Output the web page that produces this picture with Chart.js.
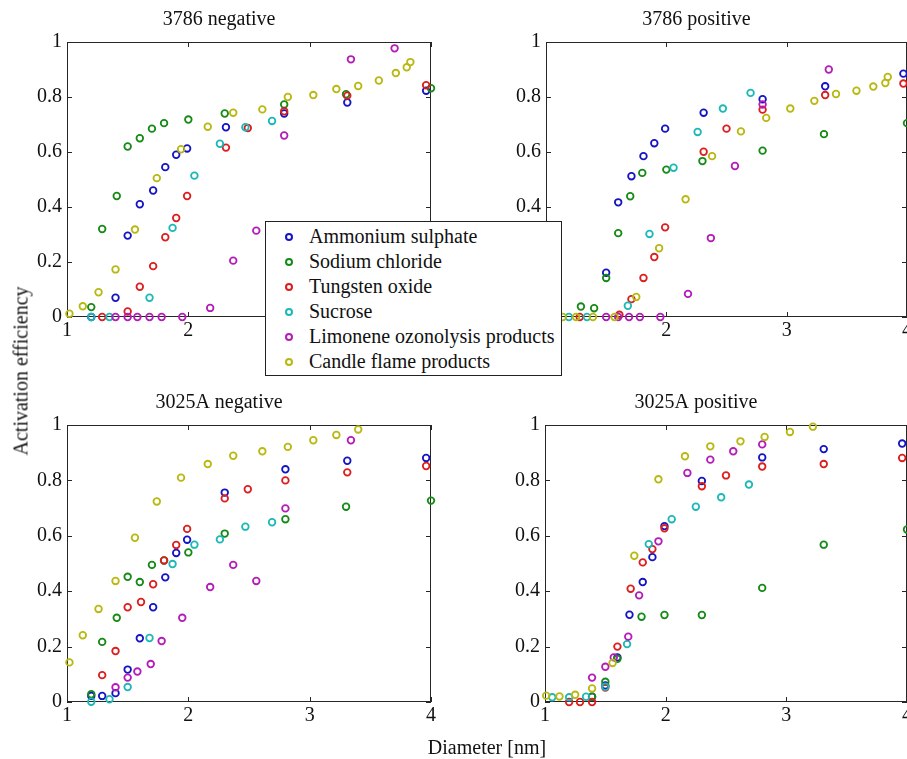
<!DOCTYPE html>
<html>
<head>
<meta charset="utf-8">
<script src="https://cdn.jsdelivr.net/npm/chart.js@4.4.1/dist/chart.umd.min.js"></script>
<style>
  html, body { margin: 0; padding: 0; background: #fff; overflow: hidden; width: 907px; height: 759px; }
  .panel { position: absolute; }
  .label { position: absolute; font-family: "Liberation Serif", "Times New Roman", "DejaVu Serif", serif; font-size: 20px; color: #111; white-space: nowrap; }
  #legend {
    position: absolute; left: 265px; top: 221px; width: 297px; height: 155px;
    box-sizing: border-box; border: 1px solid #222; background: #fff; padding-top: 2px;
    font-family: "Liberation Serif", "Times New Roman", "DejaVu Serif", serif; font-size: 20px; color: #111;
  }
  #legend .row { position: relative; height: 25px; line-height: 25px; padding-left: 43px; white-space: nowrap; }
  #legend .mk { position: absolute; left: 19px; top: 9px; width: 4px; height: 4px; border: 2px solid; border-radius: 50%; }
</style>
</head>
<body>
<div id="p0" class="panel"><canvas id="c0"></canvas></div>
<div id="p1" class="panel"><canvas id="c1"></canvas></div>
<div id="p2" class="panel"><canvas id="c2"></canvas></div>
<div id="p3" class="panel"><canvas id="c3"></canvas></div>
<div id="legend"></div>
<div class="label" style="left:21px; top:371px; transform:translate(-50%,-50%) rotate(-90deg);">Activation efficiency</div>
<div class="label" style="left:487px; top:747px; transform:translate(-50%,-50%);">Diameter [nm]</div>

<script>
/* =========================================================
   DATA
========================================================= */
const series = ["Ammonium sulphate", "Sodium chloride", "Tungsten oxide", "Sucrose",
                "Limonene ozonolysis products", "Candle flame products"];
const colors = ["#1414c4", "#168a16", "#dc1e1e", "#1cb8b8", "#b41cb8", "#b8b810"];
const panelTitles = ["3786 negative", "3786 positive", "3025A negative", "3025A positive"];
const xTicks = [1, 2, 3, 4];
const yTicks = [0, 0.2, 0.4, 0.6, 0.8, 1];

// each panel: one list of [diameter, efficiency] per series, same order as `series`
const neg3786 = [
  [[1.2,0],[1.4,0.07],[1.5,0.296],[1.6,0.41],[1.71,0.46],[1.81,0.545],[1.9,0.59],[1.99,0.613],[2.31,0.69],[2.79,0.74],[3.31,0.78],[3.96,0.823]],
  [[1.2,0.036],[1.29,0.32],[1.41,0.44],[1.5,0.62],[1.6,0.65],[1.7,0.685],[1.8,0.705],[2.0,0.718],[2.3,0.74],[2.79,0.773],[3.3,0.81],[4.0,0.832]],
  [[1.29,0],[1.5,0.02],[1.6,0.11],[1.71,0.185],[1.81,0.29],[1.9,0.36],[1.99,0.44],[2.31,0.616],[2.49,0.687],[2.79,0.748],[3.31,0.805],[3.96,0.843]],
  [[1.2,0],[1.35,0],[1.68,0.07],[1.87,0.324],[2.05,0.514],[2.26,0.63],[2.47,0.69],[2.69,0.713]],
  [[1.4,0],[1.5,0],[1.58,0],[1.68,0],[1.78,0],[1.95,0],[2.18,0.033],[2.37,0.205],[2.56,0.314],[2.79,0.66],[3.34,0.937],[3.7,0.977]],
  [[1.02,0.012],[1.13,0.039],[1.26,0.09],[1.4,0.173],[1.56,0.318],[1.74,0.505],[1.94,0.61],[2.16,0.692],[2.37,0.743],[2.61,0.755],[2.82,0.8],[3.03,0.807],[3.22,0.829],[3.4,0.84],[3.57,0.86],[3.71,0.887],[3.8,0.908],[3.83,0.927]]
];

const pos3786 = [
  [[1.5,0.161],[1.6,0.417],[1.71,0.512],[1.81,0.585],[1.9,0.632],[1.99,0.685],[2.31,0.743],[2.8,0.792],[3.32,0.839],[3.97,0.885]],
  [[1.29,0.038],[1.4,0.032],[1.5,0.142],[1.6,0.305],[1.7,0.439],[1.8,0.524],[2.0,0.536],[2.3,0.567],[2.8,0.605],[3.31,0.665],[4.0,0.705]],
  [[1.28,0],[1.61,0.008],[1.71,0.065],[1.81,0.142],[1.9,0.218],[1.99,0.326],[2.31,0.601],[2.5,0.685],[2.8,0.754],[3.32,0.807],[3.97,0.849]],
  [[1.19,0],[1.34,0],[1.68,0.041],[1.86,0.302],[2.06,0.543],[2.26,0.673],[2.47,0.758],[2.7,0.815]],
  [[1.5,0],[1.6,0],[1.69,0],[1.78,0],[1.95,0],[2.18,0.084],[2.37,0.287],[2.57,0.549],[2.8,0.773],[3.35,0.9]],
  [[1.14,0],[1.25,0],[1.39,0],[1.57,0],[1.75,0.073],[1.94,0.25],[2.16,0.428],[2.38,0.585],[2.62,0.675],[2.83,0.724],[3.03,0.758],[3.23,0.786],[3.41,0.811],[3.58,0.823],[3.72,0.838],[3.82,0.851],[3.84,0.873]]
];

const neg3025A = [
  [[1.2,0.022],[1.29,0.022],[1.4,0.032],[1.5,0.117],[1.6,0.23],[1.71,0.342],[1.81,0.45],[1.9,0.538],[1.99,0.586],[2.3,0.756],[2.8,0.84],[3.31,0.871],[3.96,0.881]],
  [[1.2,0.028],[1.29,0.217],[1.41,0.304],[1.5,0.452],[1.6,0.433],[1.7,0.495],[1.8,0.511],[2.0,0.54],[2.3,0.608],[2.8,0.66],[3.3,0.705],[4.0,0.727]],
  [[1.29,0.097],[1.4,0.184],[1.5,0.342],[1.61,0.361],[1.71,0.425],[1.8,0.511],[1.9,0.567],[1.99,0.625],[2.3,0.735],[2.49,0.768],[2.8,0.8],[3.31,0.829],[3.96,0.852]],
  [[1.2,0.001],[1.35,0.01],[1.5,0.054],[1.68,0.231],[1.87,0.498],[2.05,0.568],[2.26,0.587],[2.47,0.633],[2.69,0.649]],
  [[1.4,0.053],[1.5,0.088],[1.58,0.11],[1.69,0.137],[1.78,0.22],[1.95,0.304],[2.18,0.415],[2.37,0.495],[2.56,0.437],[2.8,0.699],[3.34,0.945]],
  [[1.02,0.143],[1.13,0.241],[1.26,0.336],[1.4,0.437],[1.56,0.593],[1.74,0.724],[1.94,0.81],[2.16,0.859],[2.37,0.889],[2.61,0.905],[2.82,0.921],[3.03,0.945],[3.22,0.964],[3.4,0.984]]
];

const pos3025A = [
  [[1.39,0.019],[1.5,0.06],[1.6,0.161],[1.7,0.315],[1.81,0.433],[1.89,0.523],[1.99,0.635],[2.3,0.798],[2.8,0.883],[3.31,0.913],[3.96,0.933]],
  [[1.39,0.019],[1.5,0.073],[1.6,0.156],[1.8,0.308],[1.99,0.314],[2.3,0.314],[2.8,0.412],[3.31,0.568],[4.0,0.623]],
  [[1.2,0],[1.29,0],[1.39,0],[1.5,0.052],[1.6,0.2],[1.71,0.409],[1.81,0.504],[1.89,0.552],[1.99,0.627],[2.3,0.779],[2.5,0.818],[2.8,0.85],[3.31,0.859],[3.96,0.881]],
  [[1.06,0.017],[1.2,0.017],[1.34,0.019],[1.5,0.055],[1.68,0.209],[1.86,0.57],[2.05,0.66],[2.25,0.705],[2.46,0.739],[2.69,0.785]],
  [[1.39,0.088],[1.5,0.127],[1.57,0.161],[1.69,0.236],[1.78,0.385],[1.94,0.58],[2.18,0.827],[2.37,0.875],[2.56,0.905],[2.8,0.93]],
  [[1.01,0.023],[1.12,0.02],[1.25,0.026],[1.39,0.049],[1.56,0.141],[1.74,0.528],[1.94,0.804],[2.16,0.887],[2.37,0.923],[2.62,0.941],[2.82,0.957],[3.03,0.975],[3.22,0.994]]
];

/* =========================================================
   LAYOUT (plot areas in page pixels)
========================================================= */
const boxes = [
  { left: 67,  top: 42,  right: 431, bottom: 317 },
  { left: 546, top: 42,  right: 907, bottom: 317 },
  { left: 67,  top: 425, right: 431, bottom: 702 },
  { left: 545, top: 425, right: 907, bottom: 702 }
];
const AXW = 60, AXH = 35, TITLE_H = 38, PAD_R = 25;
const FONT = "'Liberation Serif', 'Times New Roman', 'DejaVu Serif', serif";

/* =========================================================
   FRAME + INWARD TICKS (matlab look)
========================================================= */
const framePlugin = {
  id: "frame",
  beforeDatasetsDraw(chart) {
    const { ctx, chartArea: a, scales: { x, y } } = chart;
    ctx.save();
    ctx.strokeStyle = "#262626";
    ctx.lineWidth = 1;
    ctx.strokeRect(a.left + 0.5, a.top + 0.5, a.right - a.left - 1, a.bottom - a.top - 1);
    ctx.beginPath();
    xTicks.forEach(v => {
      const px = Math.round(x.getPixelForValue(v)) + 0.5;
      ctx.moveTo(px, a.bottom); ctx.lineTo(px, a.bottom - 5);
      ctx.moveTo(px, a.top); ctx.lineTo(px, a.top + 5);
    });
    yTicks.forEach(v => {
      const py = Math.round(y.getPixelForValue(v)) + 0.5;
      ctx.moveTo(a.left, py); ctx.lineTo(a.left + 5, py);
      ctx.moveTo(a.right, py); ctx.lineTo(a.right - 5, py);
    });
    ctx.stroke();
    ctx.restore();
  }
};

/* =========================================================
   PANELS
========================================================= */
function makePanel(i, data) {
  const b = boxes[i];
  const w = AXW + (b.right - b.left) + PAD_R;
  const h = TITLE_H + (b.bottom - b.top) + AXH;

  const wrap = document.getElementById("p" + i);
  wrap.style.left = (b.left - AXW) + "px";
  wrap.style.top = (b.top - TITLE_H) + "px";

  const cv = document.getElementById("c" + i);
  cv.width = w; cv.height = h;
  cv.style.width = w + "px"; cv.style.height = h + "px";

  const tickFont = { family: FONT, size: 20 };

  return new Chart(cv, {
    type: "scatter",
    data: {
      datasets: data.map((pts, k) => ({
        label: series[k],
        data: pts.map(p => ({ x: p[0], y: p[1] })),
        borderColor: colors[k],
        backgroundColor: "rgba(0,0,0,0)",
        pointRadius: 3.3,
        pointHoverRadius: 3.3,
        pointBorderWidth: 1.8,
        order: series.length - k,
        clip: 10
      }))
    },
    options: {
      responsive: false,
      animation: false,
      devicePixelRatio: 1,
      events: [],
      layout: { padding: { left: 0, right: PAD_R, top: 0, bottom: 0 } },
      plugins: {
        legend: { display: false },
        tooltip: { enabled: false },
        title: {
          display: true,
          text: panelTitles[i],
          color: "#111",
          font: { family: FONT, size: 20, weight: "normal" },
          padding: { top: 4, bottom: 10 }
        }
      },
      scales: {
        x: {
          type: "linear", min: 1, max: 4,
          afterBuildTicks: s => { s.ticks = xTicks.map(v => ({ value: v })); },
          afterFit: s => { s.height = AXH; },
          grid: { display: false, drawTicks: false },
          border: { display: false },
          ticks: { color: "#111", font: tickFont, padding: 2, maxRotation: 0, autoSkip: false,
                   callback: v => String(v) }
        },
        y: {
          type: "linear", min: 0, max: 1,
          afterBuildTicks: s => { s.ticks = yTicks.map(v => ({ value: v })); },
          afterFit: s => { s.width = AXW; },
          grid: { display: false, drawTicks: false },
          border: { display: false },
          ticks: { color: "#111", font: tickFont, padding: 5, autoSkip: false,
                   callback: v => String(v) }
        }
      }
    },
    plugins: [framePlugin]
  });
}

/* =========================================================
   LEGEND (shared, drawn over the panels)
========================================================= */
function renderLegend() {
  const el = document.getElementById("legend");
  el.innerHTML = series.map((name, k) =>
    `<div class="row"><span class="mk" style="border-color:${colors[k]}"></span>${name}</div>`
  ).join("");
}

[neg3786, pos3786, neg3025A, pos3025A].forEach((d, i) => makePanel(i, d));
renderLegend();
</script>
</body>
</html>
